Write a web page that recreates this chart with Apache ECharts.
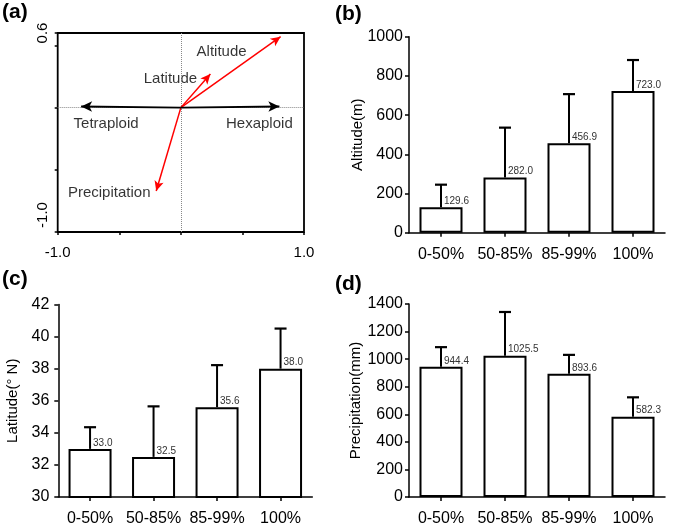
<!DOCTYPE html>
<html>
<head>
<meta charset="utf-8">
<script src="https://cdn.jsdelivr.net/npm/echarts@6/dist/echarts.min.js"></script>
<style>
html,body{margin:0;padding:0;background:#fff;}
#chart{width:675px;height:527px;}
</style>
</head>
<body>
<div id="chart"></div>
<script>
// ---------- Data ----------
// Panel (a) biplot vectors
const vectorNames = ['Altitude', 'Latitude', 'Precipitation', 'Tetraploid', 'Hexaploid'];
const vectorX = [0.81, 0.24, -0.20, -0.81, 0.80];
const vectorY = [0.57, 0.27, -0.67, 0.01, 0.01];
const vectorKind = ['env', 'env', 'env', 'ploidy', 'ploidy'];

// Panels (b)-(d)
const categories = ['0-50%', '50-85%', '85-99%', '100%'];
const altitudeMean = [129.6, 282.0, 456.9, 723.0];
const altitudeUpper = [245, 536, 707, 881];
const latitudeMean = [33.0, 32.5, 35.6, 38.0];
const latitudeUpper = [34.35, 35.65, 38.22, 40.5];
const precipMean = [944.4, 1025.5, 893.6, 582.3];
const precipUpper = [1087, 1342, 1031, 723];

// ---------- Styles ----------
const FONT = 'Liberation Sans, Arial, sans-serif';
const labelOffsets = {
  Altitude: [-59, 15],
  Latitude: [-40, 5],
  Precipitation: [-47, 2],
  Tetraploid: [25, 17],
  Hexaploid: [-20, 17]
};

const chart = echarts.init(document.getElementById('chart'), null, {renderer: 'canvas'});

function errRender(params, api) {
  const x = api.value(0), v = api.value(1), e = api.value(2);
  const p0 = api.coord([x, v]);
  const p1 = api.coord([x, e]);
  return {
    type: 'group',
    children: [
      {type: 'line', shape: {x1: p0[0], y1: p0[1], x2: p1[0], y2: p1[1]}, style: {stroke: '#000', lineWidth: 2}},
      {type: 'line', shape: {x1: p1[0] - 6, y1: p1[1], x2: p1[0] + 6, y2: p1[1]}, style: {stroke: '#000', lineWidth: 2.2}}
    ]
  };
}

function catAxis(gi) {
  return {
    type: 'category', gridIndex: gi, data: categories,
    axisLine: {show: true, onZero: false, lineStyle: {color: '#000', width: 1.5}},
    axisTick: {show: true, alignWithLabel: true, length: 4, lineStyle: {color: '#000', width: 1.5}},
    axisLabel: {color: '#000', fontSize: 16, fontFamily: FONT, margin: 14, interval: 0, hideOverlap: false}
  };
}
function valAxis(gi, min, max, interval, name, gap, margin) {
  return {
    type: 'value', gridIndex: gi, min: min, max: max, interval: interval,
    name: name, nameLocation: 'middle', nameGap: gap, nameMoveOverlap: false,
    nameTextStyle: {color: '#000', fontSize: 15, fontFamily: FONT},
    axisLine: {show: true, onZero: false, lineStyle: {color: '#000', width: 1.5}},
    axisTick: {show: true, length: 4, lineStyle: {color: '#000', width: 1.5}},
    axisLabel: {color: '#000', fontSize: 16, fontFamily: FONT, margin: margin, formatter: v => String(v)},
    splitLine: {show: false}
  };
}
function barSeries(gi, means) {
  return {
    type: 'bar', xAxisIndex: gi, yAxisIndex: gi, data: means, barWidth: 43,
    itemStyle: {color: '#fff', borderColor: '#000', borderWidth: 2},
    label: {
      show: true, position: ['50%', 0], align: 'left', verticalAlign: 'bottom',
      offset: [3, -1], fontSize: 10, fontFamily: FONT, color: '#333',
      formatter: p => Number(p.value).toFixed(1)
    },
    silent: true, animation: false
  };
}
function errSeries(gi, means, uppers) {
  return {
    type: 'custom', xAxisIndex: gi, yAxisIndex: gi,
    data: means.map((m, i) => [i, m, uppers[i]]),
    renderItem: errRender, z: 3, silent: true, animation: false
  };
}

const arrowLines = vectorNames.map((n, i) => {
  const isEnv = vectorKind[i] === 'env';
  return [
    {coord: [0, 0], symbol: 'none'},
    {coord: [vectorX[i], vectorY[i]], symbol: 'arrow',
     symbolSize: isEnv ? [7, 10] : [8, 11],
     lineStyle: {color: isEnv ? '#f00' : '#000', width: isEnv ? 1.5 : 2, type: 'solid'},
     itemStyle: {color: isEnv ? '#f00' : '#000'}}
  ];
});

const option = {
  backgroundColor: '#fff',
  animation: false,
  textStyle: {fontFamily: FONT},
  grid: [
    {left: 57.7, top: 33, width: 246.3, height: 199, show: true, borderColor: '#000', borderWidth: 1.8, backgroundColor: 'transparent'},
    {left: 409, top: 36.7, width: 256, height: 196},
    {left: 58.3, top: 304.5, width: 254, height: 192.5},
    {left: 409, top: 304, width: 256, height: 193.7}
  ],
  xAxis: [
    {
      type: 'value', gridIndex: 0, min: -1, max: 1, interval: 0.5,
      axisLine: {show: false, onZero: false},
      axisTick: {show: true, length: 3, lineStyle: {color: '#000', width: 1.5}},
      splitLine: {show: false},
      axisLabel: {color: '#000', fontSize: 15, fontFamily: FONT, margin: 13,
        formatter: v => (Math.abs(v + 1) < 1e-9 ? '-1.0' : Math.abs(v - 1) < 1e-9 ? '1.0' : '')}
    },
    catAxis(1), catAxis(2), catAxis(3)
  ],
  yAxis: [
    {
      type: 'value', gridIndex: 0, min: -1, max: 0.6, interval: 0.5,
      axisLine: {show: false, onZero: false},
      axisTick: {show: true, length: 3, lineStyle: {color: '#000', width: 1.5}},
      splitLine: {show: false},
      axisLabel: {color: '#000', fontSize: 15, fontFamily: FONT, margin: 7, rotate: 90,
        formatter: v => (Math.abs(v - 0.6) < 1e-9 ? '0.6' : Math.abs(v + 1) < 1e-9 ? '{lo|-1.0}' : ''),
        rich: {lo: {fontSize: 15, fontFamily: FONT, color: '#000', padding: [0, 0, 0, 34]}}}
    },
    valAxis(1, 0, 1000, 200, 'Altitude(m)', 44, 6),
    valAxis(2, 30, 42, 2, 'Latitude(° N)', 38, 9),
    valAxis(3, 0, 1400, 200, 'Precipitation(mm)', 46, 6)
  ],
  series: [
    {
      type: 'line', xAxisIndex: 0, yAxisIndex: 0, data: [], silent: true,
      markLine: {
        silent: true, symbol: ['none', 'none'], label: {show: false},
        lineStyle: {color: '#888', width: 1, type: 'dotted'},
        data: [{xAxis: 0}, {yAxis: 0}]
      }
    },
    {
      type: 'line', xAxisIndex: 0, yAxisIndex: 0, data: [], silent: true,
      markLine: {
        silent: true, symbol: ['none', 'arrow'], label: {show: false},
        data: arrowLines
      }
    },
    {
      type: 'scatter', xAxisIndex: 0, yAxisIndex: 0, symbolSize: 0, silent: true,
      data: vectorNames.map((n, i) => ({
        value: [vectorX[i], vectorY[i]], name: n,
        label: {show: true, position: 'inside', offset: labelOffsets[n], formatter: n,
          color: '#000', fontSize: 15, fontFamily: FONT}
      }))
    },
    barSeries(1, altitudeMean), errSeries(1, altitudeMean, altitudeUpper),
    barSeries(2, latitudeMean), errSeries(2, latitudeMean, latitudeUpper),
    barSeries(3, precipMean), errSeries(3, precipMean, precipUpper)
  ],
  graphic: [
    {type: 'text', left: 2, top: 2, style: {text: '(a)', font: 'bold 21px ' + FONT, fill: '#000'}},
    {type: 'text', left: 335, top: 4, style: {text: '(b)', font: 'bold 21px ' + FONT, fill: '#000'}},
    {type: 'text', left: 2, top: 269, style: {text: '(c)', font: 'bold 21px ' + FONT, fill: '#000'}},
    {type: 'text', left: 335, top: 274, style: {text: '(d)', font: 'bold 21px ' + FONT, fill: '#000'}}
  ]
};
chart.setOption(option);
</script>
</body>
</html>
